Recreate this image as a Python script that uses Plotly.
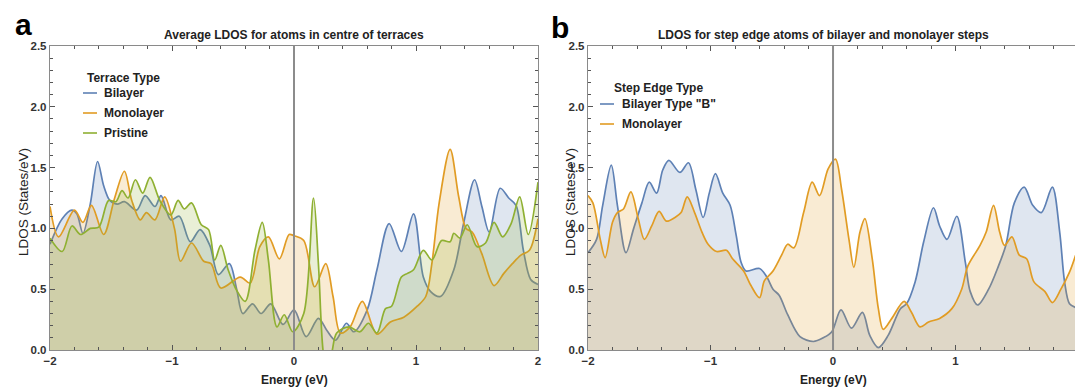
import plotly.graph_objects as go

# ---------------- Panel a: average LDOS for atoms in centre of terraces -------------
a_bil_E = [-2.0, -1.9, -1.82, -1.78, -1.73, -1.67, -1.61, -1.56, -1.51, -1.45, -1.39, -1.29, -1.22, -1.14,
           -1.09, -1.01, -0.94, -0.85, -0.77, -0.69, -0.62, -0.53, -0.47, -0.42, -0.34, -0.27, -0.19,
           -0.09, 0.0, 0.10, 0.2, 0.27, 0.34, 0.43, 0.49, 0.6, 0.68, 0.78, 0.88, 0.98, 1.06, 1.12, 1.2,
           1.31, 1.39, 1.48, 1.54, 1.6, 1.69, 1.76, 1.82, 1.88, 1.94, 2.0]
a_bil_V = [0.87, 1.08, 1.15, 1.12, 0.96, 1.2, 1.55, 1.35, 1.23, 1.2, 1.22, 1.15, 1.27, 1.18,
           1.27, 1.07, 1.10, 0.89, 0.99, 0.86, 0.62, 0.71, 0.5, 0.30, 0.38, 0.30, 0.38,
           0.21, 0.33, 0.11, 0.26, 0.16, 0.08, 0.22, 0.15, 0.33, 0.66, 1.04, 0.81, 1.12, 0.60, 0.48, 0.44,
           0.66, 1.04, 1.40, 1.18, 0.97, 1.33, 1.25, 1.19, 0.82, 0.58, 0.54]

a_mono_E = [-2.0, -1.93, -1.8, -1.73, -1.66, -1.56, -1.47, -1.39, -1.33, -1.26, -1.21, -1.14, -1.06,
            -0.98, -0.93, -0.84, -0.74, -0.68, -0.6, -0.44, -0.36, -0.28, -0.21, -0.12, -0.04, 0.0,
            0.08, 0.17, 0.26, 0.32, 0.38, 0.46, 0.56, 0.68, 0.79, 0.9, 1.01, 1.08, 1.13, 1.19, 1.28,
            1.35, 1.41, 1.46, 1.54, 1.64, 1.72, 1.79, 1.86, 1.93, 2.0]
a_mono_V = [1.18, 0.93, 1.15, 1.05, 1.19, 0.95, 1.25, 1.47, 1.23, 1.07, 1.13, 1.07, 1.26,
            1.0, 0.73, 0.88, 0.73, 0.71, 0.51, 0.60, 0.55, 0.85, 0.93, 0.75, 0.95, 0.94,
            0.90, 0.52, 0.71, 0.44, 0.14, 0.19, 0.40, 0.13, 0.23, 0.27, 0.36, 0.44, 0.71, 1.21, 1.65,
            1.26, 1.0, 0.97, 0.79, 0.53, 0.63, 0.71, 0.78, 0.82, 1.08]

a_pri_E = [-2.0, -1.9, -1.82, -1.75, -1.67, -1.6, -1.52, -1.46, -1.41, -1.36, -1.30, -1.24, -1.18,
           -1.10, -1.01, -0.95, -0.9, -0.84, -0.76, -0.7, -0.65, -0.6, -0.54, -0.47, -0.4, -0.32,
           -0.26, -0.21, -0.14, -0.08, -0.01, 0.08, 0.16, 0.2, 0.24, 0.27, 0.31, 0.35, 0.45, 0.54,
           0.61, 0.68, 0.75, 0.8, 0.88, 0.93, 0.98, 1.06, 1.13, 1.21, 1.28, 1.31, 1.36, 1.42, 1.5,
           1.57, 1.64, 1.71, 1.78, 1.85, 1.92, 2.0]
a_pri_V = [0.92, 0.81, 1.02, 0.95, 1.0, 1.01, 1.23, 1.22, 1.31, 1.25, 1.40, 1.29, 1.42,
           1.23, 1.11, 1.23, 1.16, 1.21, 1.03, 0.99, 0.74, 0.86, 0.66, 0.49, 0.40, 0.82,
           1.05, 0.74, 0.19, 0.29, 0.15, 0.30, 1.25, 0.71, -0.02, -0.15, -0.02, 0.14, 0.19, 0.15,
           0.22, 0.14, 0.34, 0.36, 0.60, 0.63, 0.66, 0.82, 0.74, 0.90, 0.89, 0.96, 0.92, 1.03, 0.85,
           0.88, 1.05, 0.93, 1.04, 1.26, 0.95, 1.38]

# ---------------- Panel b: step edge atoms --------------------------------------------
b_bil_E = [-2.0, -1.93, -1.88, -1.81, -1.76, -1.69, -1.63, -1.56, -1.5, -1.44, -1.39, -1.34, -1.25,
           -1.18, -1.12, -1.06, -1.01, -0.96, -0.9, -0.84, -0.79, -0.75, -0.71, -0.6, -0.54, -0.49,
           -0.44, -0.37, -0.27, -0.16, -0.08, -0.01, 0.065, 0.15, 0.24, 0.30, 0.37, 0.45, 0.55, 0.6,
           0.67, 0.74, 0.82, 0.87, 0.93, 1.01, 1.08, 1.12, 1.18, 1.27, 1.35, 1.41, 1.48, 1.56, 1.63,
           1.70, 1.79, 1.85, 1.89, 1.93, 1.98]
b_bil_V = [0.80, 0.91, 1.19, 1.52, 1.19, 0.80, 0.99, 1.21, 1.38, 1.29, 1.48, 1.56, 1.46,
           1.54, 1.32, 1.09, 1.29, 1.45, 1.29, 1.19, 0.94, 0.72, 0.65, 0.67, 0.60, 0.50,
           0.45, 0.29, 0.11, 0.07, 0.10, 0.15, 0.33, 0.18, 0.31, 0.12, 0.02, 0.12, 0.34, 0.38,
           0.56, 0.89, 1.17, 1.02, 0.91, 1.10, 0.72, 0.48, 0.37, 0.50, 0.69, 0.86, 1.21, 1.34, 1.19,
           1.13, 1.34, 0.97, 0.56, 0.38, 0.35]

b_mono_E = [-2.0, -1.96, -1.90, -1.86, -1.8, -1.76, -1.71, -1.65, -1.59, -1.54, -1.48, -1.42, -1.36,
            -1.29, -1.24, -1.19, -1.13, -1.07, -1.02, -0.95, -0.87, -0.82, -0.73, -0.67, -0.60, -0.56,
            -0.49, -0.42, -0.37, -0.32, -0.24, -0.17, -0.11, -0.04, 0.02, 0.07, 0.13, 0.17, 0.22,
            0.26, 0.32, 0.37, 0.41, 0.48, 0.58, 0.64, 0.71, 0.78, 0.87, 0.97, 1.05, 1.10, 1.20,
            1.25, 1.31, 1.36, 1.40, 1.46, 1.52, 1.58, 1.64, 1.73, 1.79, 1.86, 1.93, 1.98]
b_mono_V = [1.27, 1.21, 0.91, 0.76, 1.05, 1.13, 1.16, 1.30, 1.08, 0.91, 1.02, 1.14, 1.06,
            1.09, 1.13, 1.26, 1.13, 0.97, 0.87, 0.81, 0.82, 0.75, 0.65, 0.53, 0.43, 0.57,
            0.65, 0.78, 0.87, 0.84, 1.13, 1.38, 1.27, 1.49, 1.57, 1.32, 0.91, 0.68, 0.97,
            1.08, 0.75, 0.34, 0.17, 0.26, 0.40, 0.31, 0.19, 0.23, 0.26, 0.34, 0.50, 0.69, 0.86,
            0.97, 1.19, 0.97, 0.86, 0.93, 0.78, 0.75, 0.56, 0.48, 0.39, 0.50, 0.64, 0.78]

BLUE, ORANGE, GREEN = "#5E81B5", "#E19C24", "#8FB032"
FILLS = {BLUE: "rgba(94,129,181,0.2)", ORANGE: "rgba(225,156,36,0.2)", GREEN: "rgba(143,176,50,0.2)"}

W, H = 1075, 387
def px(x):
    return x / W
def py(y):
    return 1 - y / H

fig = go.Figure()

def add(x, y, color, xa, ya):
    fig.add_trace(go.Scatter(
        x=x, y=y, mode="lines", xaxis=xa, yaxis=ya, showlegend=False, hoverinfo="skip",
        line=dict(color=color, width=1.7, shape="spline", smoothing=0.9),
        fill="tozeroy", fillcolor=FILLS[color]))

add(a_bil_E, a_bil_V, BLUE, "x", "y")
add(a_mono_E, a_mono_V, ORANGE, "x", "y")
add(a_pri_E, a_pri_V, GREEN, "x", "y")
add(b_bil_E, b_bil_V, BLUE, "x2", "y2")
add(b_mono_E, b_mono_V, ORANGE, "x2", "y2")

FONT = "Liberation Sans, Arial, sans-serif"
tickfont = dict(family=FONT, size=11.5, color="#333", weight="bold")
FRAME = "#8a8a8a"
ydom = [py(350), py(46)]

def xaxis(domain, rng, anchor):
    return dict(domain=domain, range=rng, tickvals=[-2, -1, 0, 1, 2], ticks="inside", ticklen=5,
                tickcolor="#555", tickwidth=1, showline=True, linecolor=FRAME, linewidth=1.2,
                mirror="ticks", showgrid=False, zeroline=False, tickfont=tickfont, fixedrange=True,
                automargin=False, anchor=anchor,
                minor=dict(dtick=0.2, tick0=0, ticks="inside", ticklen=3, tickcolor="#555"))

def yaxis(anchor, mirror):
    return dict(domain=ydom, range=[0, 2.5], dtick=0.5, tick0=0, tickformat=".1f", ticks="inside",
                ticklen=5, tickcolor="#555", showline=True, linecolor=FRAME, linewidth=1.2,
                mirror=mirror, showgrid=False, zeroline=False, tickfont=tickfont, anchor=anchor,
                automargin=False, fixedrange=True,
                minor=dict(dtick=0.1, tick0=0, ticks="inside", ticklen=3, tickcolor="#555"))

fig.update_layout(
    width=W, height=H, margin=dict(l=0, r=0, t=0, b=0, autoexpand=False),
    paper_bgcolor="white", plot_bgcolor="white",
    xaxis=xaxis([px(50), px(538)], [-2, 2], "y"),
    yaxis=yaxis("x", "ticks"),
    xaxis2=xaxis([px(588), 1.0], [-2, 1.975], "y2"),
    yaxis2=yaxis("x2", False),
)

# zero-energy reference lines
for xr, yr in (("x", "y"), ("x2", "y2")):
    fig.add_shape(type="line", xref=xr, yref=yr + " domain", x0=0, x1=0, y0=0, y1=1,
                  line=dict(color="#8c8c8c", width=2))

def text(x, y, s, size=12, bold=True, xanchor="center", angle=0, color="#222"):
    fig.add_annotation(x=px(x), y=py(y), xref="paper", yref="paper", text=s, showarrow=False,
                       xanchor=xanchor, yanchor="middle", textangle=angle,
                       font=dict(family=FONT, size=size, color=color,
                                 weight="bold" if bold else "normal"))

# panel letters and titles
text(23, 24, "a", size=30, color="#000")
text(560, 27, "b", size=30, color="#000")
text(294, 35, "Average LDOS for atoms in centre of terraces")
text(823, 35, "LDOS for step edge atoms of bilayer and monolayer steps")
# axis titles
text(294, 380, "Energy (eV)")
text(833, 380, "Energy (eV)")
text(23, 202, "LDOS (States/eV)", size=13.5, bold=False, angle=-90)
text(570, 202, "LDOS (States/eV)", size=13.5, bold=False, angle=-90)

# legends
def legend(x_line, x_text, x_title, y_title, gap, title, items):
    text(x_title, y_title, title, xanchor="left")
    for i, (lab, col) in enumerate(items):
        yy = y_title + gap + 20 * i
        fig.add_shape(type="line", xref="paper", yref="paper", x0=px(x_line), x1=px(x_line + 14),
                      y0=py(yy), y1=py(yy), line=dict(color=col, width=1.6))
        text(x_text, yy, lab, xanchor="left")

legend(83, 102, 85, 78, 15, "Terrace Type",
       [("Bilayer", BLUE), ("Monolayer", ORANGE), ("Pristine", GREEN)])
legend(600, 620, 612, 88, 16, "Step Edge Type",
       [("Bilayer Type \"B\"", BLUE), ("Monolayer", ORANGE)])

fig.write_html("out.html", config={"displayModeBar": False, "staticPlot": True},
               post_script="document.body.style.margin='0px';document.body.style.overflow='hidden';")
